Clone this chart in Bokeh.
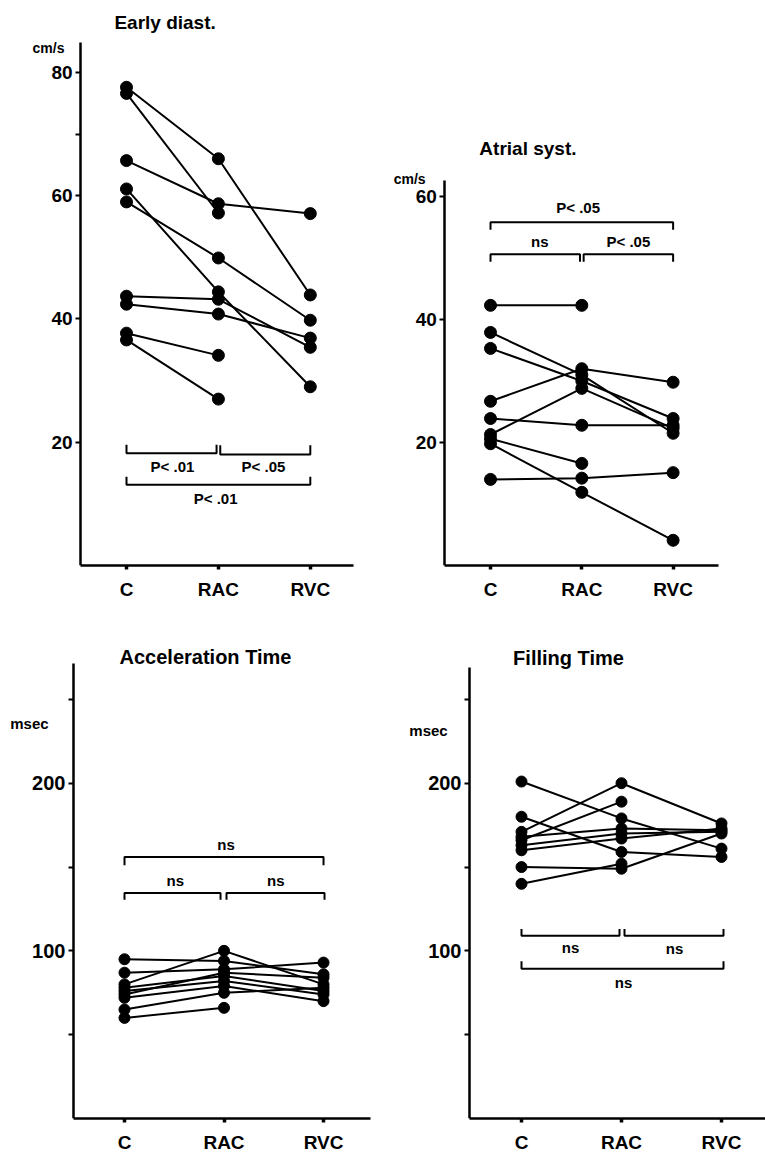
import math
from bokeh.plotting import figure
from bokeh.models import FixedTicker, Range1d
from bokeh.layouts import row, column
from bokeh.core.properties import value
from bokeh.embed import file_html
from bokeh.resources import INLINE

nan = float("nan")

# ---------------- data ----------------
categories = ["C", "RAC", "RVC"]

# Early diastolic velocity (cm/s), one entry per subject
ed_C = [77.6, 76.6, 65.7, 61.1, 59.0, 43.7, 42.4, 37.7, 36.6]
ed_RAC = [66.0, 57.2, 58.7, 44.4, 49.9, 43.2, 40.8, 34.1, 27.0]
ed_RVC = [43.9, nan, 57.1, 29.0, 39.8, 35.4, 36.9, nan, nan]

# Atrial systolic velocity (cm/s)
as_C = [42.3, 37.9, 35.3, 26.7, 23.9, 21.3, 20.6, 19.8, 14.0]
as_RAC = [42.3, 31.0, 30.0, 32.0, 22.8, 28.8, 16.6, 11.9, 14.2]
as_RVC = [nan, 21.5, 23.9, 29.8, 22.8, 22.3, nan, 4.1, 15.1]

# Acceleration time (msec)
acc_C = [95, 87, 80, 78, 76, 74, 72, 65, 60]
acc_RAC = [94, 89, 100, 85, 82, 87, 79, 75, 66]
acc_RVC = [86, 93, 80, 76, 74, 84, 70, 78, nan]

# Filling time (msec)
fill_C = [201, 180, 171, 166, 168, 163, 160, 150, 140]
fill_RAC = [179, 159, 200, 189, 173, 170, 167, 149, 152]
fill_RVC = [161, 156, 176, nan, 172, 171, 173, 170, nan]

# significance labels: C-RAC, RAC-RVC, C-RVC
ed_sig = ["P< .01", "P< .05", "P< .01"]
as_sig = ["ns", "P< .05", "P< .05"]
acc_sig = ["ns", "ns", "ns"]
fill_sig = ["ns", "ns", "ns"]

titles = ["Early diast.", "Atrial syst.", "Acceleration Time", "Filling Time"]
units = ["cm/s", "cm/s", "msec", "msec"]

FONT = "Liberation Sans"


def make_panel(width, height, right, bottom, xr, yr, x_axis_at, xb, yb, ticks, minor,
               cvals, rvals, vvals, msize, tick_font, xlab_font):
    p = figure(width=width, height=height, output_backend="svg", toolbar_location=None,
               x_range=Range1d(*xr), y_range=Range1d(*yr),
               min_border_left=0, min_border_right=right,
               min_border_top=0, min_border_bottom=bottom)
    p.outline_line_color = None
    p.grid.visible = False
    p.background_fill_color = "white"
    p.border_fill_color = "white"

    # x axis
    p.xaxis.ticker = FixedTicker(ticks=[0, 1, 2], minor_ticks=[])
    p.xaxis.major_label_overrides = {i: c for i, c in enumerate(categories)}
    p.xaxis.bounds = xb
    p.xaxis.axis_line_width = 2.5
    p.xaxis.axis_line_color = "black"
    p.xaxis.major_tick_in = 0
    p.xaxis.major_tick_out = 4
    p.xaxis.major_tick_line_width = 3.5
    p.xaxis.major_tick_line_color = "black"
    p.xaxis.minor_tick_line_color = None
    p.xaxis.major_label_standoff = 9
    p.xaxis.major_label_text_font = FONT
    p.xaxis.major_label_text_font_style = "bold"
    p.xaxis.major_label_text_font_size = xlab_font
    p.xaxis.major_label_text_color = "black"

    # y axis, drawn at the left end of the x axis
    p.yaxis.fixed_location = x_axis_at
    p.yaxis.ticker = FixedTicker(ticks=ticks, minor_ticks=minor)
    p.yaxis.bounds = yb
    p.yaxis.axis_line_width = 2.5
    p.yaxis.axis_line_color = "black"
    p.yaxis.major_tick_in = 0
    p.yaxis.major_tick_out = 5
    p.yaxis.major_tick_line_width = 2
    p.yaxis.major_tick_line_color = "black"
    p.yaxis.minor_tick_in = 0
    p.yaxis.minor_tick_out = 5
    p.yaxis.minor_tick_line_width = 2
    p.yaxis.minor_tick_line_color = "black"
    p.yaxis.major_label_standoff = 3
    p.yaxis.major_label_text_font = FONT
    p.yaxis.major_label_text_font_style = "bold"
    p.yaxis.major_label_text_font_size = tick_font
    p.yaxis.major_label_text_color = "black"

    # subject lines and points
    xs, ys, px, py = [], [], [], []
    for c, r, v in zip(cvals, rvals, vvals):
        sx, sy = [], []
        for i, val in enumerate((c, r, v)):
            if not math.isnan(val):
                sx.append(i)
                sy.append(val)
        xs.append(sx)
        ys.append(sy)
        px.extend(sx)
        py.extend(sy)
    p.multi_line(xs, ys, line_color="black", line_width=2)
    p.scatter(px, py, size=msize, fill_color="black", line_color="black")
    return p


def bracket(p, x0, x1, y, ytip):
    p.line([x0, x0, x1, x1], [ytip, y, y, ytip], line_color="black", line_width=2)


def txt(p, x, y, t, size="15px"):
    p.text([x], [y], text=[t], text_font=value(FONT), text_font_style="bold",
           text_font_size=size, text_align="center", text_baseline="middle",
           text_color="black")


# ---------- Panel 1: Early diast. ----------
p1 = make_panel(363, 630, 10, 65, (-1.371, 2.47), (0, 91.68), -0.5, (-0.5, 2.47),
                (0, 84.87), [20, 40, 60, 80], [70], ed_C, ed_RAC, ed_RVC, 12, "19px", "19px")
bracket(p1, 0, 0.98, 18.2, 19.6)
bracket(p1, 1.02, 2.0, 18.0, 19.5)
bracket(p1, 0, 2.0, 13.1, 14.4)
txt(p1, 0.5, 16.1, ed_sig[0])
txt(p1, 1.49, 16.1, ed_sig[1])
txt(p1, 0.97, 10.8, ed_sig[2])
txt(p1, 0.42, 88.1, titles[0], "19px")
txt(p1, -0.849, 83.9, units[0], "14px")

# ---------- Panel 2: Atrial syst. ----------
p2 = make_panel(402, 630, 47, 65, (-1.391, 2.497), (0, 91.87), -0.5, (-0.5, 2.5),
                (0, 62.6), [20, 40, 60], [], as_C, as_RAC, as_RVC, 12, "19px", "19px")
bracket(p2, 0, 2.0, 55.8, 54.6)
bracket(p2, 0, 0.98, 50.6, 49.4)
bracket(p2, 1.02, 2.0, 50.6, 49.4)
txt(p2, 0.96, 58.2, as_sig[2])
txt(p2, 0.54, 52.7, as_sig[0])
txt(p2, 1.51, 52.7, as_sig[1])
txt(p2, 0.41, 67.8, titles[1], "19px")
txt(p2, -0.885, 62.9, units[1], "14px")

# ---------- Panel 3: Acceleration Time ----------
p3 = make_panel(380, 525, 10, 36, (-1.246, 2.472), (0, 291.1), -0.513, (-0.513, 2.47),
                (0, 271.4), [100, 200], [50, 150, 250], acc_C, acc_RAC, acc_RVC, 11,
                "20px", "19px")
bracket(p3, 0, 2.0, 156, 151)
bracket(p3, 0, 0.965, 134.5, 130.5)
bracket(p3, 1.025, 2.01, 134.5, 130.5)
txt(p3, 1.02, 163.5, acc_sig[2])
txt(p3, 0.51, 142, acc_sig[0])
txt(p3, 1.52, 142, acc_sig[1])
txt(p3, 0.814, 275, titles[2], "20px")
txt(p3, -0.955, 235.7, units[2], "15px")

# ---------- Panel 4: Filling Time ----------
p4 = make_panel(385, 525, 0, 36, (-1.41, 2.44), (0, 291.1), -0.52, (-0.52, 2.44),
                (0, 269), [100, 200], [50, 150, 250], fill_C, fill_RAC, fill_RVC, 11,
                "20px", "19px")
bracket(p4, 0, 0.98, 109, 113)
bracket(p4, 1.03, 2.02, 109, 113)
bracket(p4, 0, 2.02, 89.3, 93.8)
txt(p4, 0.49, 102, fill_sig[0])
txt(p4, 1.53, 101.5, fill_sig[1])
txt(p4, 1.02, 81, fill_sig[2])
txt(p4, 0.47, 274.4, titles[3], "20px")
txt(p4, -0.93, 231.5, units[3], "15px")

layout = column(row(p1, p2), row(p3, p4))
open("out.html", "w").write(file_html(layout, INLINE))
